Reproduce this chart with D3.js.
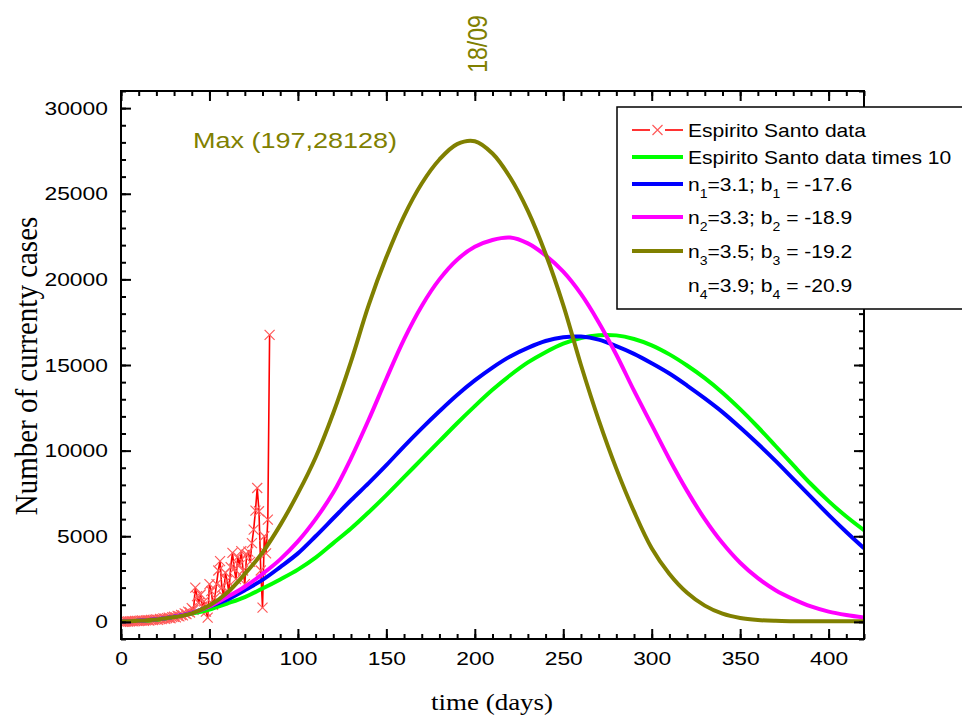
<!DOCTYPE html>
<html>
<head>
<meta charset="utf-8">
<script src="https://cdn.jsdelivr.net/npm/d3@7"></script>
<style>
  body { margin: 0; background: #fff; }
  svg text { font-family: "Liberation Sans", Arial, sans-serif; fill: #000; }
  svg .serif { font-family: "Liberation Serif", "Times New Roman", serif; }
</style>
</head>
<body>
<svg id="chart" width="962" height="716"></svg>
<script>
// ---- data ----
const curveDays = [0, 10, 20, 30, 40, 50, 60, 70, 80, 90, 100, 110, 120, 130, 140, 150, 160, 170, 180, 190, 200,
  210, 220, 230, 240, 250, 260, 270, 280, 290, 300, 310, 320, 330, 340, 350, 360, 370, 380, 390, 400, 410, 420];

const times10 = [40, 60, 130, 300, 480, 720, 1070, 1450, 1950, 2480, 3050, 3750, 4600, 5450, 6400, 7400, 8450, 9500,
  10550, 11600, 12600, 13550, 14400, 15150, 15750, 16250, 16580, 16740, 16730, 16520, 16150, 15620, 14970, 14230,
  13380, 12420, 11380, 10270, 9150, 8050, 7050, 6150, 5350];

const fitN1 = [40, 70, 150, 300, 520, 900, 1300, 1850, 2450, 3200, 4000, 5000, 6050, 7100, 8100, 9150, 10250, 11300,
  12300, 13250, 14100, 14850, 15500, 16000, 16400, 16620, 16660, 16480, 16100, 15650, 15100, 14500, 13800, 13050,
  12250, 11350, 10400, 9400, 8350, 7300, 6250, 5250, 4300];

const fitN2 = [40, 70, 150, 300, 520, 900, 1450, 2050, 2800, 3650, 4700, 6000, 7550, 9550, 11800, 14200, 16500, 18450,
  20000, 21150, 21900, 22300, 22440, 22100, 21400, 20450, 19150, 17500, 15600, 13500, 11500, 9500, 7650, 6000, 4600,
  3450, 2550, 1850, 1330, 900, 600, 400, 250];

const fitN3 = [40, 70, 140, 280, 500, 950, 1700, 2800, 4050, 5650, 7500, 9600, 12200, 15200, 18500, 21300, 23700,
  25600, 27000, 27900, 28070, 27350, 25950, 24000, 21500, 18500, 15000, 11800, 8950, 6450, 4300, 2800, 1700, 950,
  480, 230, 110, 60, 40, 30, 30, 30, 30];

const esDays = [0, 1, 2, 3, 4, 5, 6, 7, 8, 9, 10, 11, 12, 13, 14, 15, 16, 17, 18, 19, 20, 21, 22, 23, 24, 25, 26, 27,
  28, 29, 30, 31, 32, 33, 34, 35, 36, 37, 38, 39, 40, 41, 42, 43, 44, 45, 46, 47, 48, 49, 50, 51, 52, 53, 54, 55, 56,
  57, 58, 59, 60, 61, 62, 63, 64, 65, 66, 67, 68, 69, 70, 71, 72, 73, 74, 75, 76, 77, 78, 79, 80, 81, 82, 83, 84];

const esCases = [0, 0, 10, 20, 20, 30, 40, 30, 50, 60, 50, 70, 80, 60, 90, 100, 80, 120, 110, 130, 150, 120, 170,
  160, 200, 180, 220, 250, 210, 280, 300, 260, 350, 320, 400, 380, 500, 450, 600, 550, 800, 700, 2000, 1500, 1100,
  1600, 900, 1200, 600, 250, 2200, 1800, 1000, 1400, 2200, 3000, 3550, 2000, 1500, 2870, 2400, 1700, 3200, 4030,
  3100, 2500, 3800, 3300, 4130, 3000, 2200, 3935, 4100, 3500, 4600, 5390, 6500, 7820, 6460, 3000, 830, 5000, 4000,
  5975, 16760];

const xTicks = [0, 50, 100, 150, 200, 250, 300, 350, 400];
const yTicks = [0, 5000, 10000, 15000, 20000, 25000, 30000];

const series = [
  { name: 'Espirito Santo data times 10', values: times10, color: '#00ff00' },
  { name: 'n1', values: fitN1, color: '#0000ff' },
  { name: 'n2', values: fitN2, color: '#ff00ff' },
  { name: 'n3', values: fitN3, color: '#808000' },
];

// the picture is stretched sideways, so the text is too
const SX = 1.2;

const svg = d3.select('#chart');

const x = d3.scaleLinear().domain([0, 420]).range([121, 864]);
const y = d3.scaleLinear().domain([-1000, 31000]).range([639, 91]);

svg.append('defs').append('clipPath').attr('id', 'plot-clip')
  .append('rect')
    .attr('x', x.range()[0]).attr('y', y.range()[1])
    .attr('width', x.range()[1] - x.range()[0])
    .attr('height', y.range()[0] - y.range()[1]);

const plot = svg.append('g').attr('clip-path', 'url(#plot-clip)');

// Espirito Santo data: thin red line with x markers
const esPoints = esDays.map((d, i) => [d, esCases[i]]);

plot.append('path')
  .datum(esPoints)
  .attr('fill', 'none')
  .attr('stroke', '#ff0000')
  .attr('stroke-width', 1.6)
  .attr('d', d3.line().x((d) => x(d[0])).y((d) => y(d[1])));

const cross = 5;
const crossPath = `M${-cross},${-cross}L${cross},${cross}M${-cross},${cross}L${cross},${-cross}`;

plot.append('g')
  .selectAll('path')
  .data(esPoints)
  .join('path')
    .attr('transform', (d) => `translate(${x(d[0])},${y(d[1])})`)
    .attr('d', crossPath)
    .attr('stroke', '#ff5a5a')
    .attr('stroke-width', 1.2);

// model curves
const curveLine = d3.line()
  .x((d) => x(d[0]))
  .y((d) => y(d[1]))
  .curve(d3.curveCatmullRom.alpha(0.5));

plot.selectAll('.curve')
  .data(series)
  .join('path')
    .attr('class', 'curve')
    .attr('fill', 'none')
    .attr('stroke', (d) => d.color)
    .attr('stroke-width', 4)
    .attr('d', (d) => curveLine(curveDays.map((day, i) => [day, d.values[i]])));

// ---- axes: ticks point inwards on all four sides ----
const minorX = d3.range(0, 421, 10);
const minorY = d3.range(-1000, 31001, 1000);

function addAxis(axis, transform) {
  const g = svg.append('g')
    .attr('transform', transform)
    .call(axis);
  g.select('.domain').remove();
  g.selectAll('line').attr('stroke-width', 2);
  return g;
}

const bottomMajor = addAxis(d3.axisBottom(x).tickValues(xTicks).tickSize(-10).tickPadding(13).tickFormat(d3.format('d')),
  `translate(0,${y.range()[0]})`);
addAxis(d3.axisBottom(x).tickValues(minorX).tickSize(-5).tickFormat(''), `translate(0,${y.range()[0]})`);
addAxis(d3.axisTop(x).tickValues(xTicks).tickSize(-10).tickFormat(''), `translate(0,${y.range()[1]})`);
addAxis(d3.axisTop(x).tickValues(minorX).tickSize(-5).tickFormat(''), `translate(0,${y.range()[1]})`);

const leftMajor = addAxis(d3.axisLeft(y).tickValues(yTicks).tickSize(-10).tickPadding(11).tickFormat(d3.format('d')),
  `translate(${x.range()[0]},0)`);
addAxis(d3.axisLeft(y).tickValues(minorY).tickSize(-5).tickFormat(''), `translate(${x.range()[0]},0)`);
addAxis(d3.axisRight(y).tickValues(yTicks).tickSize(-10).tickFormat(''), `translate(${x.range()[1]},0)`);
addAxis(d3.axisRight(y).tickValues(minorY).tickSize(-5).tickFormat(''), `translate(${x.range()[1]},0)`);

[bottomMajor, leftMajor].forEach((g) => {
  g.selectAll('text')
    .attr('font-size', 19)
    .attr('font-family', '"Liberation Sans", Arial, sans-serif')
    .attr('fill', '#000')
    .attr('transform', `scale(${SX},1)`);
});

// frame
svg.append('rect')
  .attr('x', x.range()[0]).attr('y', y.range()[1])
  .attr('width', x.range()[1] - x.range()[0])
  .attr('height', y.range()[0] - y.range()[1])
  .attr('fill', 'none')
  .attr('stroke', '#000')
  .attr('stroke-width', 2);

// axis titles
svg.append('text')
  .attr('class', 'serif')
  .attr('transform', `translate(492,710) scale(${SX},1)`)
  .attr('text-anchor', 'middle')
  .attr('font-size', 22.5)
  .text('time (days)');

svg.append('text')
  .attr('class', 'serif')
  .attr('transform', 'translate(37,366) scale(1.1,1) rotate(-90)')
  .attr('text-anchor', 'middle')
  .attr('font-size', 29)
  .text('Number of currenty cases');

// peak annotations
svg.append('text')
  .attr('transform', `translate(193,148) scale(${SX},1)`)
  .attr('font-size', 22.5)
  .style('fill', '#808000')
  .text('Max (197,28128)');

svg.append('text')
  .attr('transform', `translate(${x(197) + 17},44) scale(${SX},1) rotate(-90)`)
  .attr('text-anchor', 'middle')
  .attr('font-size', 23)
  .style('fill', '#808000')
  .text('18/09');

// ---- legend ----
const legend = svg.append('g').attr('transform', 'translate(617,107)');

legend.append('rect')
  .attr('width', 360).attr('height', 202)
  .attr('fill', '#fff')
  .attr('stroke', '#000')
  .attr('stroke-width', 1.5);

const legendRows = [
  { y: 23, color: '#ff0000', marker: true, parts: [['Espirito Santo data']] },
  { y: 50, color: '#00ff00', parts: [['Espirito Santo data times 10']] },
  { y: 77, color: '#0000ff', parts: [['n'], ['1', 'sub'], ['=3.1; b'], ['1', 'sub'], [' = -17.6']] },
  { y: 110, color: '#ff00ff', parts: [['n'], ['2', 'sub'], ['=3.3; b'], ['2', 'sub'], [' = -18.9']] },
  { y: 144, color: '#808000', parts: [['n'], ['3', 'sub'], ['=3.5; b'], ['3', 'sub'], [' = -19.2']] },
  { y: 178, color: null, parts: [['n'], ['4', 'sub'], ['=3.9; b'], ['4', 'sub'], [' = -20.9']] },
];

const rows = legend.selectAll('.row')
  .data(legendRows)
  .join('g')
    .attr('class', 'row')
    .attr('transform', (d) => `translate(0,${d.y})`);

rows.filter((d) => d.color && !d.marker)
  .append('line')
    .attr('x1', 15).attr('x2', 66)
    .attr('stroke', (d) => d.color)
    .attr('stroke-width', 4);

// red entry: line broken round the marker
const redRow = rows.filter((d) => d.marker);
redRow.append('line').attr('x1', 15).attr('x2', 33).attr('stroke', '#ff0000').attr('stroke-width', 1.6);
redRow.append('line').attr('x1', 48).attr('x2', 66).attr('stroke', '#ff0000').attr('stroke-width', 1.6);
redRow.append('path')
  .attr('transform', 'translate(40.5,0)')
  .attr('d', crossPath)
  .attr('stroke', '#ff5a5a')
  .attr('stroke-width', 1.2)
  .attr('fill', 'none');

const LEGEND_SX = 1.17;
const rowText = rows.append('text')
  .attr('transform', `translate(71,6.5) scale(${LEGEND_SX},1)`)
  .attr('font-size', 18);

rowText.selectAll('tspan')
  .data((d) => d.parts)
  .join('tspan')
    .attr('font-size', (p) => p[1] === 'sub' ? 12 : 18)
    .attr('dy', (p, i, nodes) => {
      if (p[1] === 'sub') return 7;
      const prev = i > 0 ? d3.select(nodes[i - 1]).datum() : null;
      return prev && prev[1] === 'sub' ? -7 : 0;
    })
    .text((p) => p[0]);
</script>
</body>
</html>
